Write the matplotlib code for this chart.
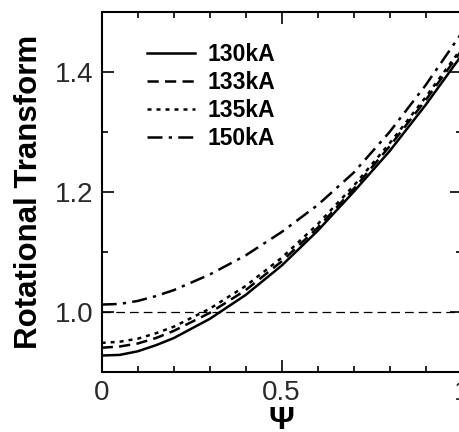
import matplotlib
matplotlib.use("Agg")
import matplotlib.pyplot as plt
from matplotlib.ticker import MultipleLocator

# data
psi = [0.0, 0.05, 0.1, 0.15, 0.2, 0.3, 0.4, 0.5, 0.6, 0.7, 0.8, 0.9, 1.0]
iota_130 = [0.927, 0.928, 0.934, 0.944, 0.956, 0.988, 1.028, 1.077, 1.135, 1.200, 1.268, 1.345, 1.428]
iota_133 = [0.940, 0.942, 0.947, 0.956, 0.968, 0.998, 1.036, 1.084, 1.140, 1.205, 1.276, 1.353, 1.436]
iota_135 = [0.948, 0.950, 0.955, 0.964, 0.975, 1.005, 1.043, 1.090, 1.146, 1.210, 1.281, 1.358, 1.440]
iota_150 = [1.012, 1.013, 1.018, 1.026, 1.036, 1.062, 1.094, 1.133, 1.178, 1.232, 1.300, 1.378, 1.465]
labels = ["130kA", "133kA", "135kA", "150kA"]

plt.rcParams['font.family'] = ['Liberation Sans', 'DejaVu Sans']

fig = plt.figure(figsize=(4.6, 4.32), dpi=100)
ax = fig.add_axes([0.221, 0.1396, 0.7826, 0.8326])

lw = 1.8
ax.plot(psi, iota_130, color='k', lw=lw, ls='-', label=labels[0])
ax.plot(psi, iota_133, color='k', lw=lw, ls=(0, (4.5, 2.5)), label=labels[1])
ax.plot(psi, iota_135, color='k', lw=lw, ls=(0, (1.6, 2.0)), label=labels[2])
ax.plot(psi, iota_150, color='k', lw=lw, ls=(0, (6, 2.5, 1.3, 2.5)), label=labels[3])
ax.axhline(1.0, color='k', lw=0.9, ls=(0, (7, 4)))

ax.set_xlim(0, 1)
ax.set_ylim(0.9, 1.5)
ax.xaxis.set_minor_locator(MultipleLocator(0.1))
ax.yaxis.set_minor_locator(MultipleLocator(0.1))
ax.set_xticks([0, 0.5, 1])
ax.set_xticklabels(['0', '0.5', '1'])
ax.set_yticks([1.0, 1.2, 1.4])
ax.set_yticklabels(['1.0', '1.2', '1.4'])

ax.tick_params(which='both', direction='in', top=True, right=True, width=1.2,
               labelsize=20, labelcolor='#2a2a2a', pad=6)
ax.tick_params(which='major', length=8.5)
ax.tick_params(which='minor', length=4)
for s in ax.spines.values():
    s.set_linewidth(1.5)

ax.set_ylabel("Rotational Transform", fontsize=22.5, fontweight='bold', labelpad=8)
ax.set_xlabel("Ψ", fontsize=23, fontweight='bold', labelpad=0)

leg = ax.legend(loc='upper left', bbox_to_anchor=(0.126, 0.915), frameon=False,
                prop={'size': 16.5, 'weight': 'bold'}, handlelength=2.1,
                handletextpad=0.52, labelspacing=0.22, borderpad=0,
                borderaxespad=0)

fig.savefig("out.png", dpi=100)
